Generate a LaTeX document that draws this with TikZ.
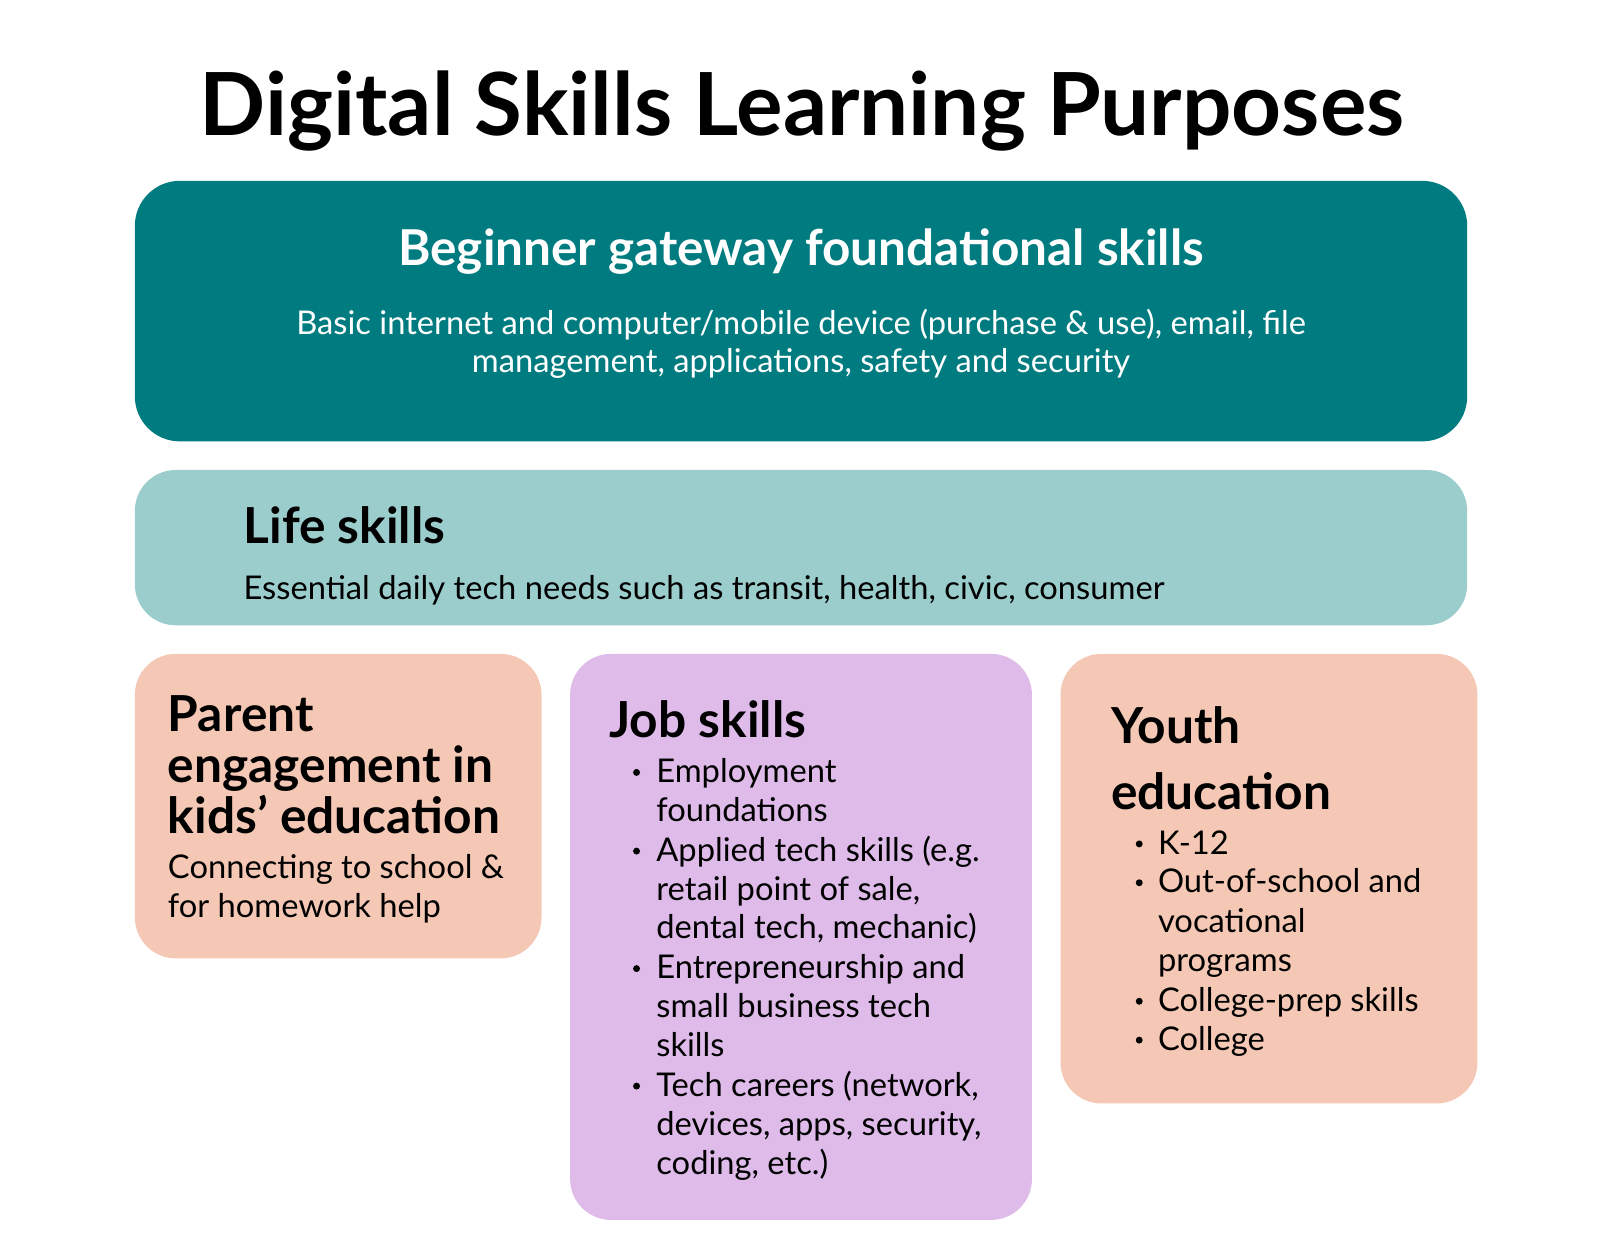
\documentclass[tikz,border=0pt]{standalone}
\usepackage{fontspec}
\setmainfont{Lato}
\definecolor{gatewayteal}{HTML}{007C80}
\definecolor{lifeteal}{HTML}{9CCDCD}
\definecolor{peach}{HTML}{F5C8B6}
\definecolor{lavender}{HTML}{DFBBEA}
\tikzset{
  ttl/.style={font=\bfseries\fontsize{42.6}{46}\selectfont, anchor=base, inner sep=0},
  gatehd/.style={font=\bfseries\fontsize{24.2}{28}\selectfont, anchor=base, inner sep=0, text=white},
  gatetxt/.style={font=\fontsize{16}{19}\selectfont, anchor=base, inner sep=0, text=white},
  hd/.style={font=\bfseries\fontsize{24.3}{25}\selectfont, anchor=base west, inner sep=0},
  txt/.style={font=\fontsize{16}{19}\selectfont, anchor=base west, inner sep=0},
  dot/.style={circle, fill=black, inner sep=0, minimum size=3.4pt},
}
\begin{document}
\begin{tikzpicture}[x=0.5pt,y=-0.5pt]
\useasboundingbox (0,0) rectangle (1566,1218);
\node[ttl] (title) at (785,133) {Digital Skills Learning Purposes};
% cards
\fill[gatewayteal, rounded corners=22pt] (132,177) rectangle (1436,432);
\fill[lifeteal, rounded corners=20pt] (132,460) rectangle (1436,612);
\fill[peach, rounded corners=20pt] (132,640) rectangle (530,938);
\fill[lavender, rounded corners=20pt] (558,640) rectangle (1010,1194);
\fill[peach, rounded corners=20pt] (1038,640) rectangle (1446,1080);
% beginner gateway
\node[gatehd] (gate) at (784,260) {Beginner gateway foundational skills};
\node[gatetxt] (gate1) at (784,327) {Basic internet and computer/mobile device (purchase \& use), email, file};
\node[gatetxt] (gate2) at (784,365) {management, applications, safety and security};
% life skills
\node[hd] (life) at (238,532) {Life skills};
\node[txt] (life1) at (238,587) {Essential daily tech needs such as transit, health, civic, consumer};
% parent engagement
\foreach \l [count=\i] in {Parent, engagement in, kids’ education}{
  \node[hd] (parent\i) at (164,{716+50*(\i-1)}) {\l};
}
\node[txt] (parenttxt1) at (164,860) {Connecting to school \&};
\node[txt] (parenttxt2) at (164,898) {for homework help};
% job skills
\node[hd] (job) at (596,722) {Job skills};
\foreach \y/\t/\b [count=\i] in {766/Employment/1, 804/foundations/0,
  843/{Applied tech skills (e.g.}/1, 881/{retail point of sale,}/0, 919/{dental tech, mechanic)}/0,
  958/Entrepreneurship and/1, 996/small business tech/0, 1034/skills/0,
  1073/{Tech careers (network,}/1, 1111/{devices, apps, security,}/0, 1150/{coding, etc.)}/0}{
  \node[txt] (job\i) at (642,\y) {\t};
  \ifnum\b=1 \node[dot] (jobdot\i) at (623,\y-10) {}; \fi
}
% youth education
\node[hd] (youth1) at (1087,728) {Youth};
\node[hd] (youth2) at (1087,792) {education};
\foreach \y/\t/\b [count=\i] in {836/K-12/1, 874/Out-of-school and/1, 913/vocational/0,
  951/programs/0, 990/College-prep skills/1, 1028/College/1}{
  \node[txt] (youthtxt\i) at (1133,\y) {\t};
  \ifnum\b=1 \node[dot] (youthdot\i) at (1115,\y-10) {}; \fi
}
\end{tikzpicture}
\end{document}
